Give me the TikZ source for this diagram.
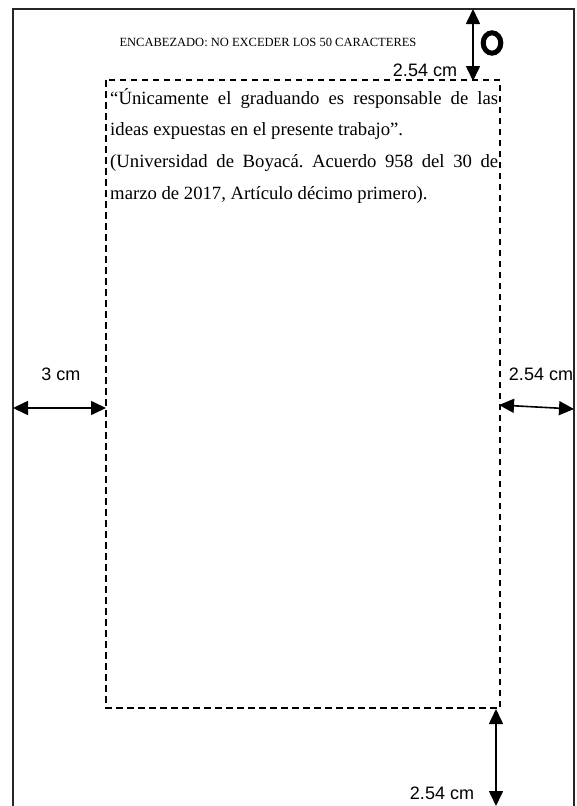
\documentclass[tikz,border=0pt]{standalone}
\usepackage{fontspec}
\setmainfont{Liberation Serif}
\newfontfamily\arialf{Liberation Sans}
\usetikzlibrary{arrows.meta}
\newcommand\bodyfont{\fontsize{18.7}{31.8}\selectfont\frenchspacing\hyphenpenalty=10000 \exhyphenpenalty=10000 }
\tikzset{
  pageline/.style={line width=2.4pt, draw=black!85},
  marginbox/.style={line width=1.8pt, dash pattern=on 6.5pt off 4.5pt},
  dimarrow/.style={line width=1.6pt, {Triangle[length=15pt,width=14pt]}-{Triangle[length=15pt,width=14pt]}},
  dimlabel/.style={font=\arialf\fontsize{18}{20}\selectfont, inner sep=0pt, anchor=base},
}
\begin{document}
\begin{tikzpicture}[x=1pt,y=-1pt]
\useasboundingbox (0,0) rectangle (577,806);
% page outline (bottom edge outside the view)
\coordinate (pBL) at (13,820);
\coordinate (pTL) at (13,9);
\coordinate (pTR) at (574,9);
\coordinate (pBR) at (574,820);
\draw[pageline] (pBL) -- (pTL) -- (pTR) -- (pBR);
% margin box
\coordinate (mTL) at (106,80);
\coordinate (mBR) at (500,708);
\draw[marginbox] (mTL) rectangle (mBR);
% header
\node[font=\fontsize{12.5}{14}\selectfont, inner sep=0pt, anchor=base] (header) at (268,46)
  {ENCABEZADO: NO EXCEDER LOS 50 CARACTERES};
% page number mark
\draw[line width=5pt] (492,43) ellipse [x radius=8.8, y radius=10.2];
\node[inner sep=0pt] (ring) at (492,43) {};
% body text
\node[anchor=base west, text width=388pt, align=justify, inner sep=0pt, font=\bodyfont] (body) at (110,104)
  {“Únicamente el graduando es responsable de las\linebreak ideas expuestas en el presente trabajo”.\par
   (Universidad de Boyacá. Acuerdo 958 del 30 de\linebreak marzo de 2017, Artículo décimo primero).};
% top dimension
\coordinate (tA) at (473,9);
\coordinate (tB) at (473,81);
\draw[dimarrow] (tA) -- (tB);
\node[dimlabel] (tlab) at (425,76) {2.54 cm};
% left dimension
\coordinate (lA) at (13,408);
\coordinate (lB) at (106,408);
\draw[dimarrow] (lA) -- (lB);
\node[dimlabel] (llab) at (61,380) {3 cm};
% right dimension
\coordinate (rA) at (499,405);
\coordinate (rB) at (574,409);
\draw[dimarrow] (rA) -- (rB);
\node[dimlabel] (rlab) at (541,380) {2.54 cm};
% bottom dimension
\coordinate (bA) at (496,709);
\coordinate (bB) at (496,806);
\draw[dimarrow] (bA) -- (bB);
\node[dimlabel] (blab) at (442,799) {2.54 cm};
\end{tikzpicture}
\end{document}
